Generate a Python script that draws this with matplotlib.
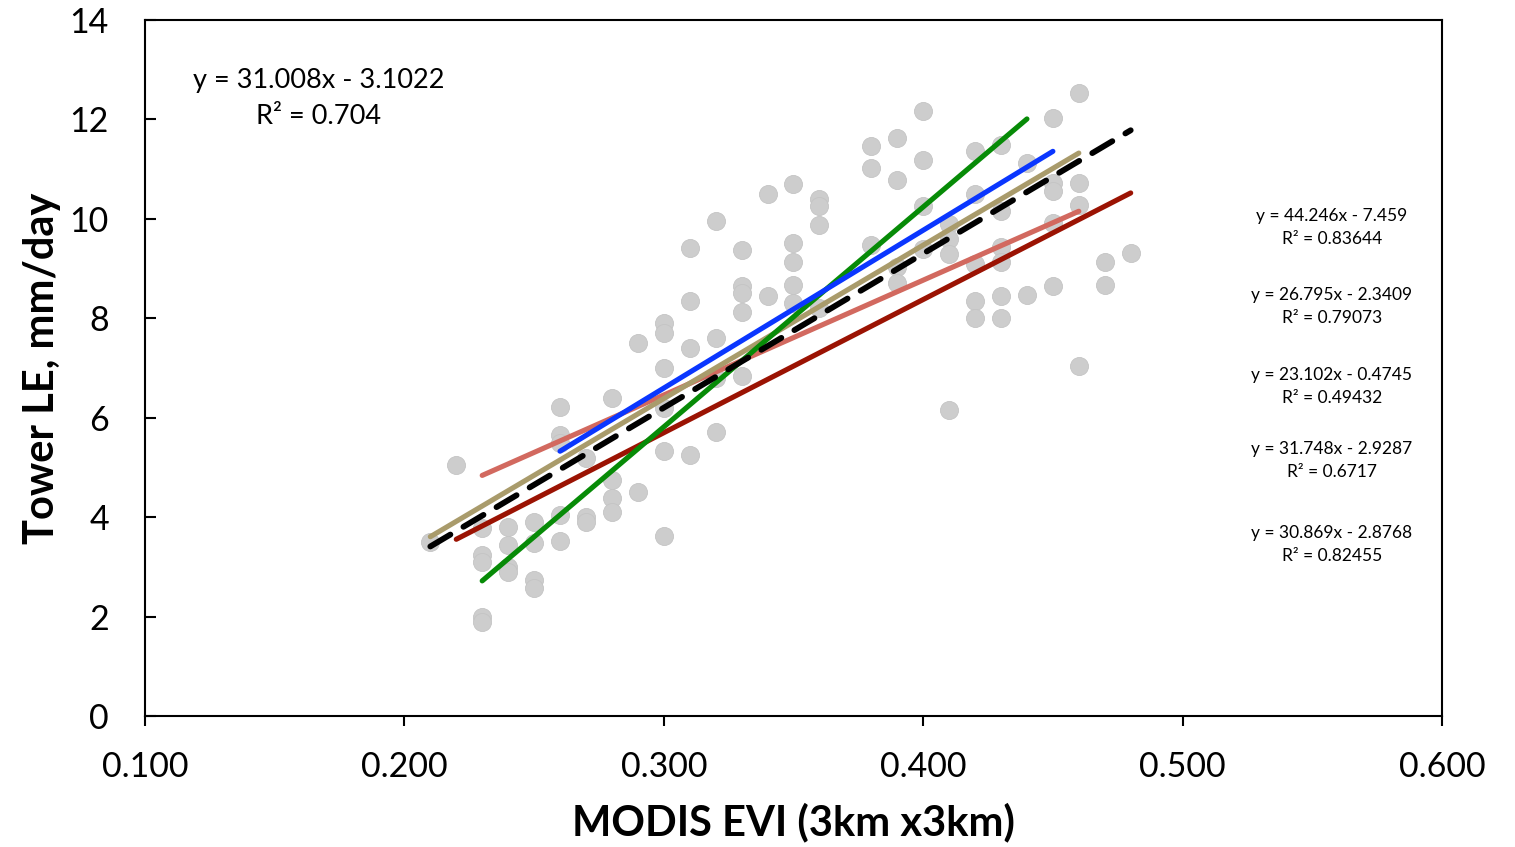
"""Tower LE vs MODIS EVI scatter with per-site linear fits (Excel-style)."""
import matplotlib
matplotlib.use("Agg")
import matplotlib.pyplot as plt
import numpy as np

plt.rcParams["font.family"] = ["Lato", "DejaVu Sans"]

# scatter points, grouped by EVI column
EVI_COLS = [0.21, 0.22, 0.23, 0.24, 0.25, 0.26, 0.27, 0.28, 0.29, 0.30,
            0.31, 0.32, 0.33, 0.34, 0.35, 0.36, 0.38, 0.39, 0.40, 0.41,
            0.42, 0.43, 0.44, 0.45, 0.46, 0.47, 0.48]
LE_VALS = [
    [3.5],
    [5.05],
    [3.78, 3.24, 3.1, 2.0, 1.9],
    [3.81, 3.44, 3.0, 2.9],
    [3.91, 3.48, 2.74, 2.57],
    [6.22, 5.65, 5.5, 4.04, 3.51],
    [5.19, 4.0, 3.9],
    [6.39, 4.75, 4.38, 4.1],
    [7.5, 4.51],
    [7.9, 7.7, 7.0, 6.2, 5.32, 3.62],
    [9.41, 8.34, 7.4, 5.25],
    [9.95, 7.6, 6.8, 5.72],
    [9.38, 8.64, 8.5, 8.13, 6.83],
    [10.5, 8.44],
    [10.7, 9.51, 9.14, 8.67, 8.3],
    [10.4, 10.25, 9.88, 8.2],
    [11.46, 11.02, 9.48],
    [11.62, 10.78, 9.04, 8.7],
    [12.16, 11.19, 10.25, 9.4],
    [9.9, 9.6, 9.3, 6.15],
    [11.37, 10.5, 9.1, 8.34, 8.0],
    [11.49, 10.15, 9.44, 9.14, 8.44, 8.0],
    [11.12, 8.47],
    [12.03, 10.72, 10.55, 9.91, 8.64],
    [12.53, 10.72, 10.28, 7.03],
    [9.14, 8.67],
    [9.31],
]

# trendlines: slope, intercept, r2, x start, x end
FIT_SLOPE = [26.795, 23.102, 30.869, 44.246, 31.748, 31.008]
FIT_INTERCEPT = [-2.3409, -0.4745, -2.8768, -7.459, -2.9287, -3.1022]
FIT_R2 = ["0.79073", "0.49432", "0.82455", "0.83644", "0.6717", "0.704"]
FIT_X0 = [0.22, 0.23, 0.21, 0.23, 0.26, 0.21]
FIT_X1 = [0.48, 0.46, 0.46, 0.44, 0.45, 0.48]
FIT_COLORS = ["#9b1303", "#d2695f", "#a99b6b", "#078b07", "#0a36ff", "black"]

# right-hand equation labels, top to bottom
RIGHT_ORDER = [3, 0, 1, 4, 2]
RIGHT_Y = [9.82, 8.24, 6.62, 5.14, 3.45]


def fmt_eq(i):
    b = FIT_INTERCEPT[i]
    sign = "-" if b < 0 else "+"
    return f"y = {FIT_SLOPE[i]}x {sign} {abs(b)}\nR² = {FIT_R2[i]}"


fig = plt.figure(figsize=(15.15, 8.47), dpi=100)
ax = fig.add_axes([0.0957, 0.1547, 0.8561, 0.8217])

xs = np.concatenate([[x] * len(v) for x, v in zip(EVI_COLS, LE_VALS)])
ys = np.concatenate(LE_VALS)
ax.plot(xs, ys, "o", ms=13, color="#cdcdcd", mec="#c4c4c4", mew=0.6,
        zorder=1)

for i in range(len(FIT_SLOPE)):
    x = np.array([FIT_X0[i], FIT_X1[i]])
    y = FIT_SLOPE[i] * x + FIT_INTERCEPT[i]
    if FIT_COLORS[i] == "black":
        ax.plot(x, y, color="black", lw=4.2, ls=(0, (4, 2.6)),
                solid_capstyle="round", dash_capstyle="round", zorder=5)
    else:
        ax.plot(x, y, color=FIT_COLORS[i], lw=3.7, solid_capstyle="round",
                zorder=3)

ax.text(0.167, 12.42, fmt_eq(5), ha="center", va="center", fontsize=19.5,
        linespacing=1.55)
for i, yy in zip(RIGHT_ORDER, RIGHT_Y):
    ax.text(0.5576, yy, fmt_eq(i), ha="center", va="center", fontsize=12.5,
            linespacing=1.55)

ax.set_xlim(0.1, 0.6)
ax.set_ylim(0, 14)
ax.set_xticks(np.arange(0.1, 0.61, 0.1))
ax.set_xticklabels([f"{v:.3f}" for v in np.arange(0.1, 0.61, 0.1)])
ax.set_yticks(range(0, 15, 2))
ax.tick_params(axis="x", direction="out", length=7, width=1.5, pad=18,
               labelsize=24.5)
ax.tick_params(axis="y", direction="in", length=8, width=1.5, pad=26,
               labelsize=24.5)
for sp in ax.spines.values():
    sp.set_linewidth(1.5)

ax.set_xlabel("MODIS EVI (3km x3km)", fontsize=30, fontweight="bold",
              labelpad=14)
ax.set_ylabel("Tower LE, mm/day", fontsize=30, fontweight="bold",
              labelpad=6)

fig.savefig("out.png", dpi=100)
